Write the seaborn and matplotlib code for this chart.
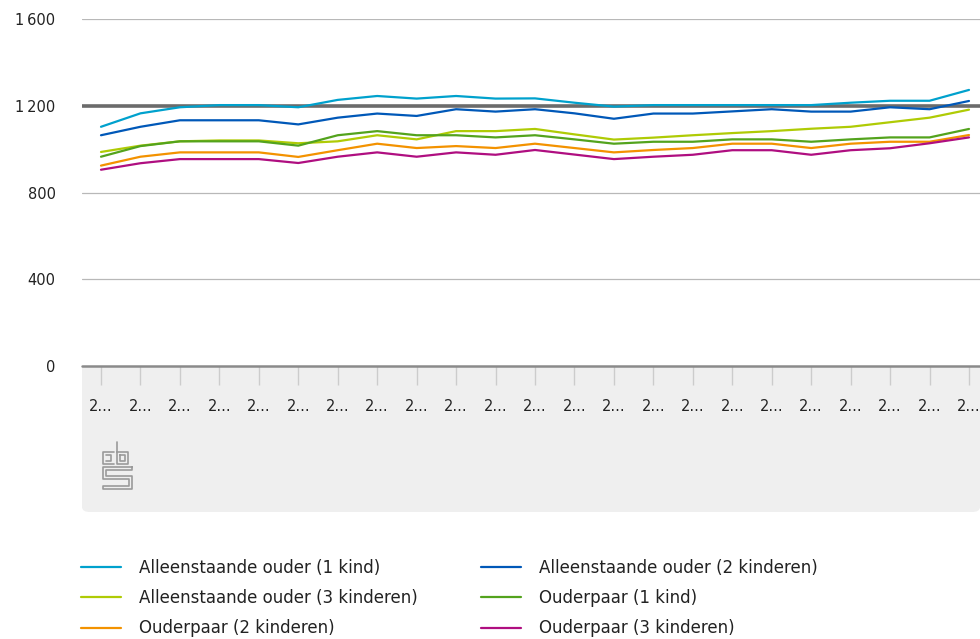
import numpy as np
import pandas as pd
import matplotlib.pyplot as plt
import seaborn as sns
from matplotlib.patches import FancyBboxPatch, Rectangle
from matplotlib.lines import Line2D

# jaren (labels in de grafiek afgekapt als "2...")
jaren = list(range(2000, 2023))
tick_labels = ["2..."] * len(jaren)

series_names = [
    "Alleenstaande ouder (1 kind)",
    "Alleenstaande ouder (2 kinderen)",
    "Alleenstaande ouder (3 kinderen)",
    "Ouderpaar (1 kind)",
    "Ouderpaar (2 kinderen)",
    "Ouderpaar (3 kinderen)",
]

alleen_1 = [1103, 1165, 1193, 1203, 1203, 1193, 1227, 1245, 1233, 1245, 1233, 1234,
            1214, 1196, 1203, 1203, 1203, 1203, 1203, 1214, 1223, 1223, 1273]
alleen_2 = [1064, 1103, 1133, 1133, 1133, 1114, 1145, 1164, 1153, 1184, 1173, 1184,
            1165, 1140, 1164, 1164, 1174, 1184, 1173, 1173, 1193, 1184, 1222]
alleen_3 = [987, 1016, 1036, 1040, 1040, 1027, 1036, 1064, 1045, 1083, 1083, 1093,
            1068, 1044, 1053, 1064, 1074, 1083, 1094, 1103, 1124, 1145, 1182]
paar_1 = [965, 1014, 1036, 1036, 1036, 1016, 1064, 1083, 1064, 1064, 1054, 1064,
          1045, 1025, 1034, 1034, 1045, 1045, 1034, 1045, 1054, 1054, 1093]
paar_2 = [924, 965, 985, 985, 985, 964, 995, 1025, 1005, 1014, 1005, 1025,
          1005, 985, 996, 1005, 1025, 1025, 1005, 1025, 1034, 1034, 1065]
paar_3 = [905, 935, 954, 954, 954, 936, 965, 985, 965, 985, 974, 996,
          975, 954, 965, 974, 995, 995, 974, 995, 1004, 1027, 1054]

kleuren = ["#00a1cd", "#0058b8", "#afcb05", "#53a31d", "#f39200", "#af0e80"]
y_ticks = [0, 400, 800, 1200, 1600]
y_labels = ["0", "400", "800", "1\u2009200", "1\u2009600"]
referentie = 1200

waarden = [alleen_1, alleen_2, alleen_3, paar_1, paar_2, paar_3]
df = pd.DataFrame({
    "pos": np.tile(np.arange(len(jaren)), len(series_names)),
    "waarde": np.concatenate(waarden),
    "reeks": np.repeat(series_names, len(jaren)),
})

sns.set_style("white")
plt.rcParams["font.family"] = ["DejaVu Sans"]

W, H = 980, 639
fig = plt.figure(figsize=(W / 100, H / 100), dpi=100)

# grijs paneel onder de as (onderkant afgerond)
panel = FancyBboxPatch((82 / W, 1 - 512 / H), (980 - 82) / W, (512 - 366) / H,
                       boxstyle="round,pad=0,rounding_size=0.008",
                       transform=fig.transFigure, facecolor="#efefef",
                       edgecolor="none", zorder=0)
fig.patches.append(panel)
fig.patches.append(Rectangle((82 / W, 1 - 400 / H), (980 - 82) / W, 34 / H,
                             transform=fig.transFigure, facecolor="#efefef",
                             edgecolor="none", zorder=0))

ax = fig.add_axes([82 / W, 1 - 366 / H, (980 - 82) / W, (366 - 19) / H])
ax.set_facecolor("none")
ax.set_zorder(2)

palette = dict(zip(series_names, kleuren))
sns.lineplot(data=df, x="pos", y="waarde", hue="reeks", palette=palette,
             linewidth=1.6, legend=False, ax=ax, zorder=3)

for t in [400, 800, 1600]:
    ax.axhline(t, color="#b8b8b8", linewidth=0.9, zorder=1)
ax.axhline(referentie, color="#6b6b6b", linewidth=2.6, zorder=2)
ax.axhline(0, color="#8a8a8a", linewidth=1.8, zorder=4, clip_on=False)

ax.set_ylim(0, 1600)
ax.set_xlim(-19 / 39.45, 22 + 11 / 39.45)
ax.set_yticks(y_ticks)
ax.set_yticklabels(y_labels, fontsize=10.5, color="#222222")
ax.set_xticks(range(len(jaren)))
ax.set_xticklabels(tick_labels, fontsize=10.5, color="#222222")
ax.tick_params(axis="y", left=False, length=0, pad=19)
ax.tick_params(axis="x", bottom=True, length=14, width=1, color="#cccccc", pad=10)
for s in ax.spines.values():
    s.set_visible(False)
ax.set_xlabel("")
ax.set_ylabel("")

# cbs logo (vereenvoudigd)
def pix(xs, ys):
    return [x / W for x in xs], [1 - y / H for y in ys]

logo = [
    ([114, 103, 103, 114], [452, 452, 464, 464]),
    ([106, 111, 111, 106], [455, 455, 461, 461]),
    ([117, 117, 128, 128, 117], [442, 464, 464, 452, 452]),
    ([120, 120, 125, 125, 120], [455, 461, 461, 455, 455]),
    ([132, 103, 103, 129, 129, 103, 103, 132, 132, 106, 106, 132, 132],
     [467, 467, 479, 479, 486, 486, 489, 489, 476, 476, 470, 470, 467]),
]
for xs, ys in logo:
    lx, ly = pix(xs, ys)
    fig.add_artist(Line2D(lx, ly, color="#9a9a9a", linewidth=1.2,
                          transform=fig.transFigure))

# legenda in twee kolommen
handles = [Line2D([], [], color=c, linewidth=1.6) for c in kleuren]
kol1 = [0, 2, 4]
kol2 = [1, 3, 5]
for kol, x0 in [(kol1, 74), (kol2, 474)]:
    leg = fig.legend([handles[i] for i in kol], [series_names[i] for i in kol],
                     loc="upper left", bbox_to_anchor=(x0 / W, 1 - 552 / H),
                     frameon=False, fontsize=12, handlelength=2.4,
                     handletextpad=1.1, labelspacing=0.74, borderaxespad=0)
    for t in leg.get_texts():
        t.set_color("#222222")

fig.savefig("out.png", dpi=100, facecolor="white")
